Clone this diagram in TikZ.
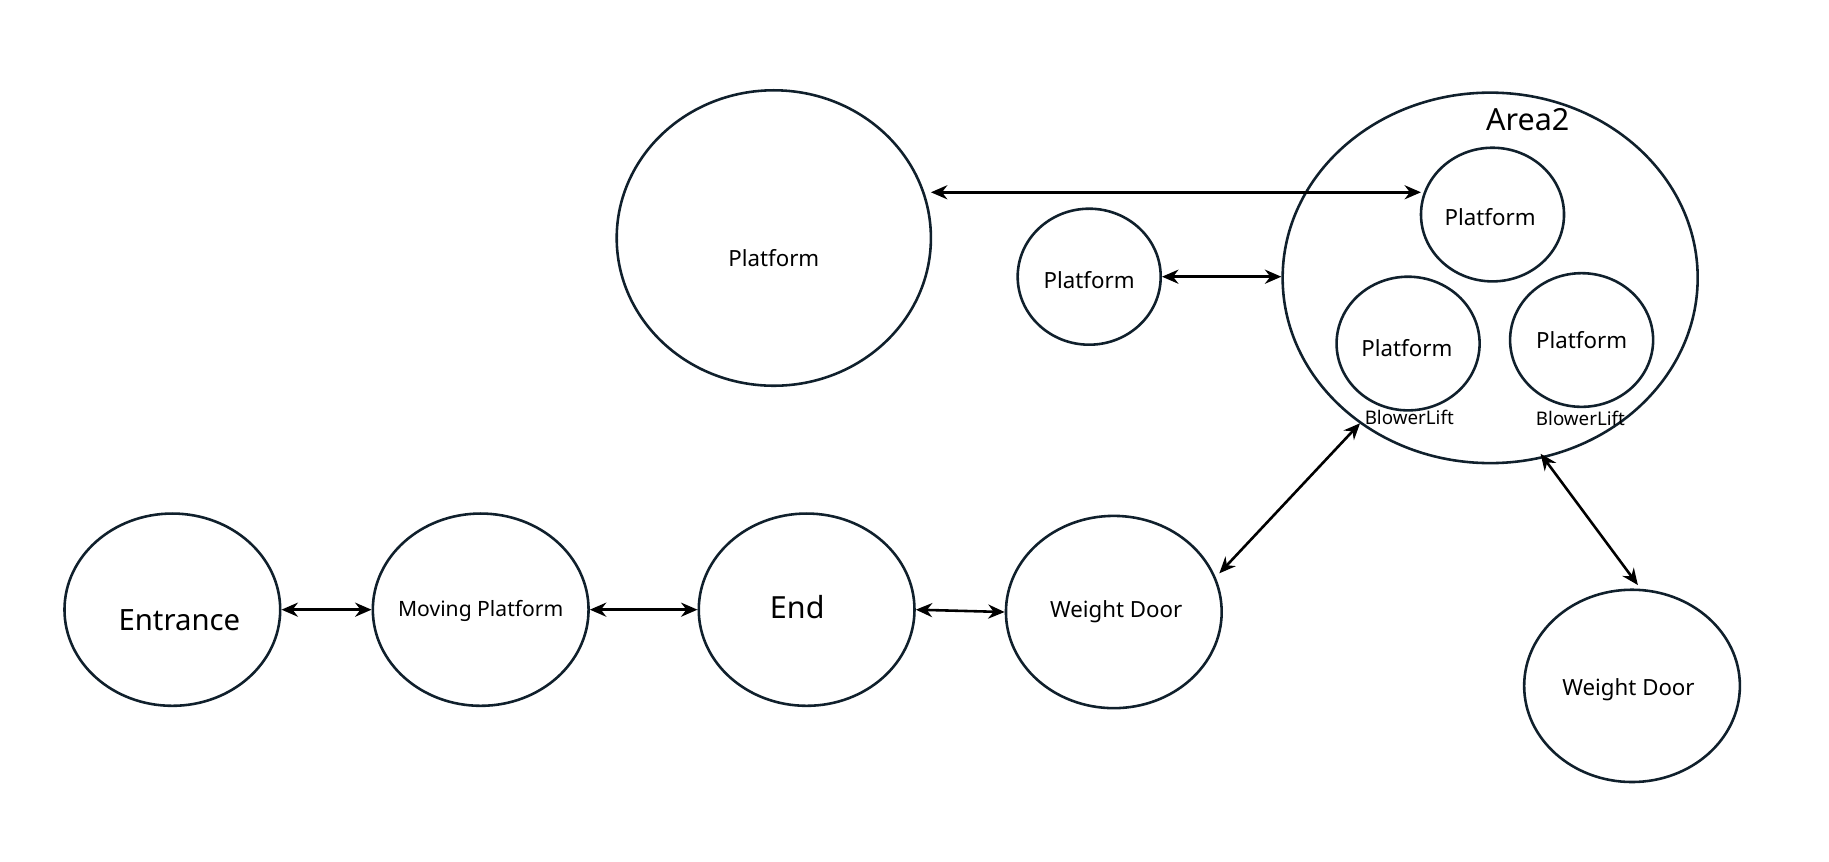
\documentclass[tikz,border=0pt]{standalone}
\usepackage{fontspec}
\setmainfont{Noto Sans}
\usetikzlibrary{shapes.geometric,arrows.meta}
\begin{document}
\begin{tikzpicture}[x=0.5pt,y=0.5pt,yscale=-1,
  room/.style={draw={rgb,255:red,16;green,32;blue,44},line width=1.1pt,ellipse,inner sep=0pt},
  door/.style={room,minimum width=92pt,minimum height=82pt},
  sub/.style={room,minimum width=61pt,minimum height=57pt},
  link/.style={{Stealth[length=7pt,width=6pt]}-{Stealth[length=7pt,width=6pt]},line width=1.1pt}]
\useasboundingbox (0,0) rectangle (1560,735);

% rooms
\node[door] (entrance) at (147,520) {};
\node[door] (moving) at (410,520) {};
\node[door] (end) at (688,520) {};
\node[door] (door1) at (950,522) {};
\node[door] (door2) at (1392,585) {};
\node[room,minimum width=134pt,minimum height=126pt] (bigplat) at (660,203) {};
\node[room,minimum width=61pt,minimum height=58pt] (smallplat) at (929,236) {};
\node[room,minimum width=177pt,minimum height=158pt] (area) at (1271,237) {};
\node[sub] (toplat) at (1273,183) {};
\node[sub] (leftplat) at (1201,293) {};
\node[sub] (rightplat) at (1349,290) {};

% labels
\node[font=\fontsize{12.5}{14}\selectfont] (lentrance) at (153,529) {Entrance};
\node[font=\fontsize{9}{11}\selectfont] (lmoving) at (410,521) {Moving Platform};
\node[font=\fontsize{13}{15}\selectfont] (lend) at (680,518) {End};
\node[font=\fontsize{9.5}{11}\selectfont] (ldoor1) at (952,522) {Weight Door};
\node[font=\fontsize{9.5}{11}\selectfont] (ldoor2) at (1389,588) {Weight Door};
\node[font=\fontsize{9.5}{11}\selectfont] (lbig) at (660,220) {Platform};
\node[font=\fontsize{9.5}{11}\selectfont] (lsmall) at (929,239) {Platform};
\node[font=\fontsize{13}{15}\selectfont] (larea) at (1303,102) {Area2};
\node[font=\fontsize{9.5}{11}\selectfont] (ltop) at (1271,185) {Platform};
\node[font=\fontsize{9.5}{11}\selectfont] (lleft) at (1200,297) {Platform};
\node[font=\fontsize{9.5}{11}\selectfont] (lright) at (1349,290) {Platform};
\node[font=\fontsize{8}{10}\selectfont] (blow1) at (1202,356) {BlowerLift};
\node[font=\fontsize{8}{10}\selectfont] (blow2) at (1348,357) {BlowerLift};

% connectors
\coordinate (a1) at (794,164);
\coordinate (a2) at (1212,164);
\coordinate (b1) at (1040,489);
\coordinate (b2) at (1160,361);
\coordinate (c1) at (1314,387);
\coordinate (c2) at (1397,499);
\draw[link] (entrance.east) -- (moving.west);
\draw[link] (moving.east) -- (end.west);
\draw[link] (end.east) -- (door1.west);
\draw[link] (a1) -- (a2);
\draw[link] (smallplat.east) -- (smallplat.east-|area.west);
\draw[link] (b1) -- (b2);
\draw[link] (c1) -- (c2);

\end{tikzpicture}
\end{document}
